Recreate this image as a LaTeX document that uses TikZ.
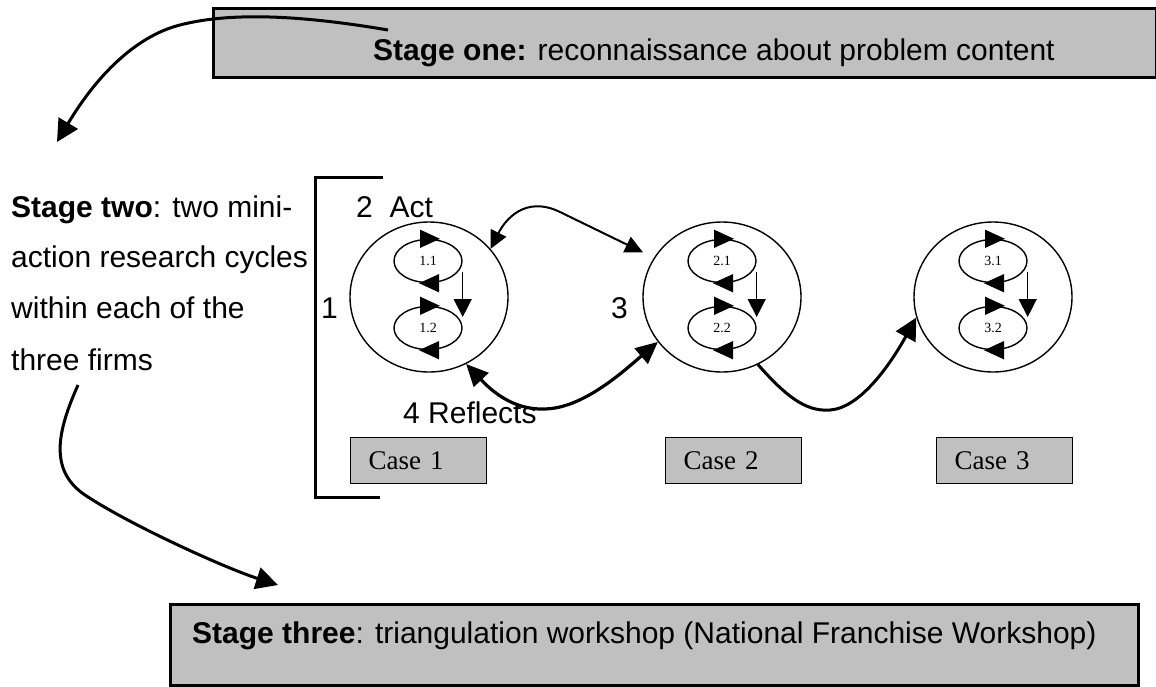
\documentclass[tikz,border=0pt]{standalone}
\usepackage{fontspec}
\setmainfont{Liberation Serif}
\setsansfont{Liberation Sans}
\usetikzlibrary{arrows.meta,shapes.geometric}
\definecolor{boxgray}{RGB}{192,192,192}
\begin{document}
\begin{tikzpicture}[x=1pt,y=-1pt,
  sans/.style={font=\sffamily\fontsize{30}{36}\selectfont, inner sep=0pt},
  stagebox/.style={draw, line width=2.5pt, fill=boxgray, rectangle, inner sep=0pt},
  casebox/.style={draw, line width=1.2pt, fill=boxgray, rectangle, minimum height=46pt,
    inner xsep=18pt, inner ysep=0pt, text width=100pt, align=left,
    font=\rmfamily\fontsize{27}{30}\selectfont},
  ring/.style={draw, ellipse, line width=1.4pt, minimum width=158pt, minimum height=150pt, inner sep=0pt},
  cyc/.style={draw, ellipse, line width=1.4pt, minimum width=68pt, minimum height=43pt, inner sep=0pt,
    font=\rmfamily\fontsize{14}{16}\selectfont},
  cychead/.style={line width=1.4pt, -{Triangle[length=20pt,width=18pt]}},
  vhead/.style={line width=1.4pt, -{Triangle[length=18pt,width=18pt]}},
  thickarrow/.style={line width=3pt, -{Triangle[length=22pt,width=22pt]}},
  thickdbl/.style={line width=3.2pt, {Triangle[length=22pt,width=20pt]}-{Triangle[length=22pt,width=20pt]}},
  meddbl/.style={line width=2pt, {Triangle[length=18pt,width=17pt]}-{Triangle[length=18pt,width=17pt]}}
]
\useasboundingbox (0,0) rectangle (1156,686);

% stage boxes
\node[stagebox, minimum width=943pt, minimum height=69pt, anchor=north west] (s1) at (212,7) {};
\node[sans, anchor=base west] (s1t) at (373,60) {\textbf{Stage one:} reconnaissance about problem content};
\node[stagebox, minimum width=968pt, minimum height=81pt, anchor=north west] (s3) at (169,603) {};
\node[sans, anchor=base west] (s3t) at (192,643) {\textbf{Stage three}: triangulation workshop (National Franchise Workshop)};

% stage two text
\node[sans, anchor=base west] (s2a) at (11,217) {\textbf{Stage two}: two mini-};
\node[sans, anchor=base west] (s2b) at (11,267) {action research cycles};
\node[sans, anchor=base west] (s2c) at (11,318) {within each of the};
\node[sans, anchor=base west] (s2d) at (11,370) {three firms};

% bracket
\draw[line width=3pt] (383,177) -- (315,177) -- (315,497) -- (380,497);

% labels
\node[sans, anchor=base west] (act) at (356,217) {2\ \ Act};
\node[sans, anchor=base west] (n1) at (321,318) {1};
\node[sans, anchor=base west] (n3) at (611,318) {3};
\node[sans, anchor=base west] (refl) at (403,423) {4 Reflects};

% circles
\node[ring] (c1) at (429,297) {};
\node[ring] (c2) at (722,297) {};
\node[ring] (c3) at (993,297) {};

% inner cycles
\node[cyc] (e11) at (428,261) {1.1};
\node[cyc] (e12) at (428,328) {1.2};
\node[cyc] (e21) at (722,261) {2.1};
\node[cyc] (e22) at (722,328) {2.2};
\node[cyc] (e31) at (993,261) {3.1};
\node[cyc] (e32) at (993,328) {3.2};

\foreach \e in {e11,e12,e21,e22,e31,e32}{
  \draw[cychead] ([xshift=-6pt]\e.north) -- ([xshift=12pt]\e.north);
  \draw[cychead] ([xshift=6pt]\e.south) -- ([xshift=-9pt]\e.south);
}
\draw[vhead] ([yshift=-11pt]e11.east) -- ([yshift=11pt]e12.east);
\draw[vhead] ([yshift=-11pt]e21.east) -- ([yshift=11pt]e22.east);
\draw[vhead] ([yshift=-11pt]e31.east) -- ([yshift=11pt]e32.east);

% case boxes
\node[casebox, anchor=north west] (k1) at (350,437) {Case 1};
\node[casebox, anchor=north west] (k2) at (665,437) {Case 2};
\node[casebox, anchor=north west] (k3) at (936,437) {Case 3};

% connectors between circles
\draw[meddbl, shorten >=12pt] (c1.38) .. controls (505,220) and (525,195) .. (560,212) -- (c2.150);
\draw[thickdbl] (c1.-61) .. controls (505,405) and (530,412) .. (555,408) .. controls (590,402) and (625,370) .. (c2.215);
\draw[thickarrow] (c2.-62) .. controls (785,395) and (805,412) .. (830,410) .. controls (860,408) and (890,365) .. (c3.195);

% stage connectors
\coordinate (a0) at (388,30);
\coordinate (a1) at (57,142);
\draw[thickarrow] (a0) .. controls (300,15) and (230,12) .. (180,25) .. controls (140,35) and (100,70) .. (a1);
\coordinate (b0) at (78,385);
\coordinate (b1) at (278,585);
\draw[thickarrow] (b0) .. controls (58,430) and (48,470) .. (85,495) .. controls (130,525) and (225,568) .. (b1);
\end{tikzpicture}
\end{document}
